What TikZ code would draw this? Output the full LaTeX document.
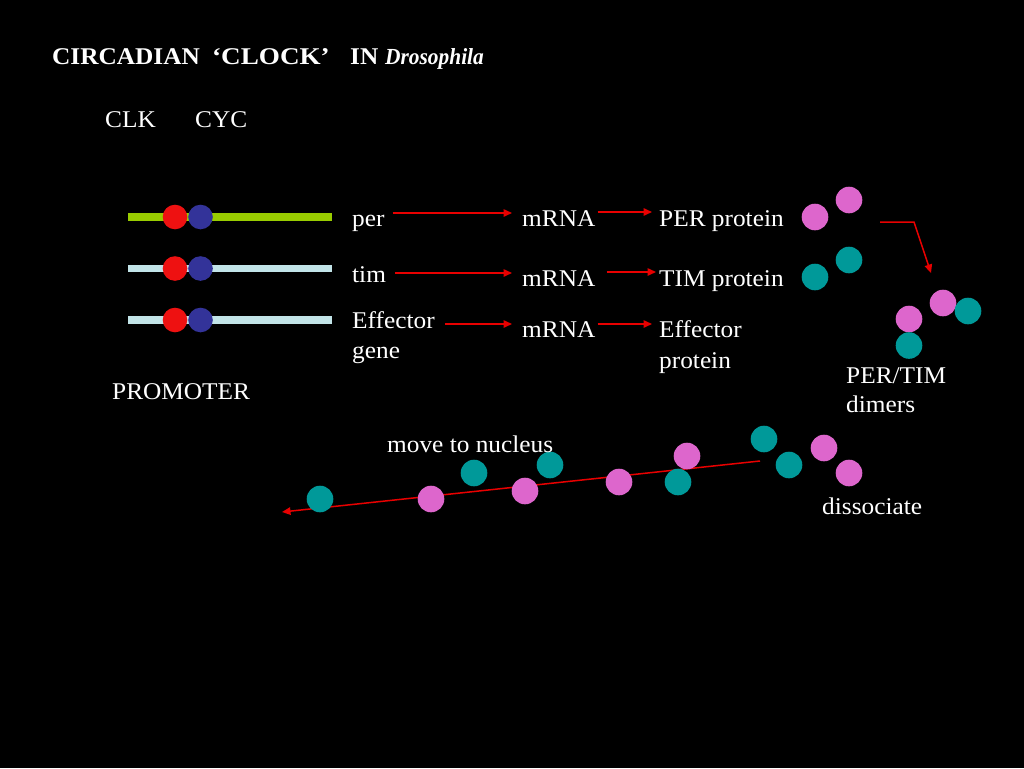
\documentclass[tikz,border=0pt]{standalone}
\usepackage{fontspec}
\setmainfont{Liberation Serif}[FakeStretch=1.055]
\newfontfamily\clockfont{Liberation Serif}[FakeStretch=1.13]
\newfontfamily\drosofont{Liberation Serif}[FakeStretch=0.93]
\usetikzlibrary{arrows.meta,calc}
\definecolor{arrred}{HTML}{E80000}
\definecolor{pinkc}{HTML}{DD66CC}
\definecolor{tealc}{HTML}{009999}
\definecolor{bluec}{HTML}{333399}
\definecolor{redc}{HTML}{EE1111}
\definecolor{greenc}{HTML}{99CC00}
\definecolor{lblue}{HTML}{C2E4E8}
\tikzset{
  txt/.style={text=white,inner sep=0pt,anchor=base west,font=\fontsize{24}{28}\selectfont},
  ttl/.style={txt,font=\fontsize{24}{28}\selectfont\bfseries},
  arr/.style={draw=arrred,line width=1.5pt,-{Triangle[length=8.5pt,width=7.5pt]}},
  dot/.style={circle,inner sep=0pt,minimum size=26.6pt},
  pk/.style={dot,fill=pinkc},
  tl/.style={dot,fill=tealc},
  rd/.style={circle,inner sep=0pt,minimum size=24.6pt,fill=redc},
  bl/.style={circle,inner sep=0pt,minimum size=24.6pt,fill=bluec},
  gene/.style={line width=7.5pt,line cap=butt}
}
\begin{document}
\begin{tikzpicture}[x=1pt,y=-1pt]
\fill[black] (0,0) rectangle (1024,768);
\useasboundingbox (0,0) rectangle (1024,768);
% title
\node[ttl] (title1) at (52,64) {CIRCADIAN};
\node[ttl] (title2) at (212,64) {\clockfont ‘CLOCK’};
\node[ttl] (title3) at (350,64) {IN};
\node[ttl,font=\fontsize{23}{27}\drosofont\bfseries\itshape] (title4) at (385,64) {Drosophila};
\node[txt] (clk) at (105,127) {CLK};
\node[txt] (cyc) at (195,127) {CYC};
% genes
\draw[gene,greenc] (128,217) -- (332,217);
\draw[gene,lblue] (128,268.5) -- (332,268.5);
\draw[gene,lblue] (128,320) -- (332,320);
\node[rd] (r1) at (175,217) {};
\node[bl] (b1) at (200.5,217) {};
\node[rd] (r2) at (175,268.5) {};
\node[bl] (b2) at (200.5,268.5) {};
\node[rd] (r3) at (175,320) {};
\node[bl] (b3) at (200.5,320) {};
\node[txt] (prom) at (112,399) {PROMOTER};
% labels
\node[txt] (per) at (352,226) {per};
\node[txt] (tim) at (352,282) {tim};
\node[txt] (eff) at (352,328) {Effector};
\node[txt] (gen) at (352,358) {gene};
\node[txt] (m1) at (522,226) {mRNA};
\node[txt] (m2) at (522,286) {mRNA};
\node[txt] (m3) at (522,337) {mRNA};
\node[txt] (perp) at (659,226) {PER protein};
\node[txt] (timp) at (659,286) {TIM protein};
\node[txt] (effp) at (659,337) {Effector};
\node[txt] (effp2) at (659,368) {protein};
% arrows
\draw[arr] ($(per.base east)+(8,-13)$) -- ($(m1.base west)+(-10,-13)$);
\draw[arr] ($(tim.base east)+(9,-9)$) -- ($(m2.base west)+(-10,-13)$);
\draw[arr] ($(eff.base east)+(10,-4)$) -- ($(m3.base west)+(-10,-13)$);
\draw[arr] ($(m1.base east)+(2,-14)$) -- ($(perp.base west)+(-7,-14)$);
\draw[arr] ($(m2.base east)+(11,-14)$) -- ($(timp.base west)+(-3,-14)$);
\draw[arr] ($(m3.base east)+(2,-13)$) -- ($(effp.base west)+(-7,-13)$);
% proteins
\node[pk] (p1) at (815,217) {};
\node[pk] (p2) at (849,200) {};
\node[tl] (t1) at (815,277) {};
\node[tl] (t2) at (849,260) {};
% dimers
\node[pk] (dp1) at (943,303) {};
\node[tl] (dt1) at (968,311) {};
\node[pk] (dp2) at (909,319) {};
\node[tl] (dt2) at (909,345.5) {};
\coordinate (bs) at (880,222);
\coordinate (bk) at (914,222);
\coordinate (be) at (931,273);
\draw[arr] (bs) -- (bk) -- (be);
\node[txt] (pt) at (846,383) {PER/TIM};
\node[txt] (dm) at (846,412) {dimers};
% move to nucleus
\coordinate (ls) at (760,461);
\coordinate (le) at (282,512);
\draw[arr] (ls) -- (le);
\node[tl] (n1) at (320,499) {};
\node[pk] (n2) at (431,499) {};
\node[tl] (n3) at (474,473) {};
\node[pk] (n4) at (525,491) {};
\node[tl] (n5) at (550,465) {};
\node[pk] (n6) at (619,482) {};
\node[pk] (n7) at (687,456) {};
\node[tl] (n8) at (678,482) {};
\node[tl] (n9) at (764,439) {};
\node[tl] (n10) at (789,465) {};
\node[pk] (n11) at (824,448) {};
\node[pk] (n12) at (849,473) {};
\node[txt] (mv) at (387,452) {move to nucleus};
\node[txt] (dis) at (822,514) {dissociate};
\end{tikzpicture}
\end{document}
